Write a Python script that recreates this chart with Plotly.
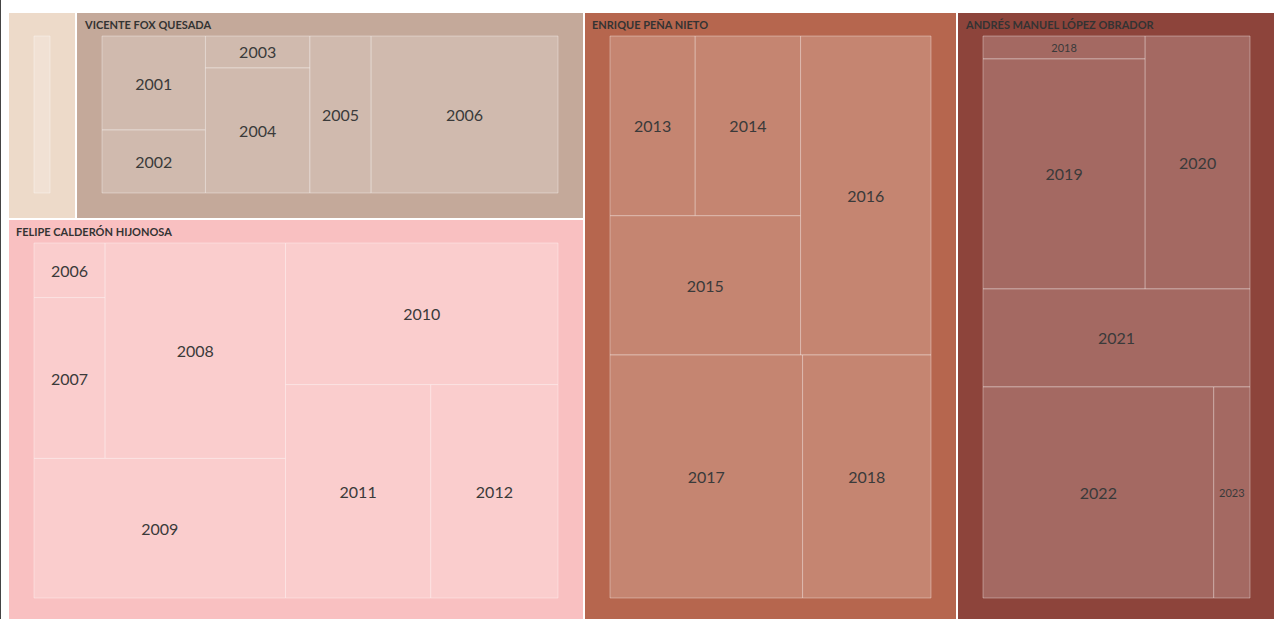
import plotly.graph_objects as go

# ---------------- data ----------------
presidents = [
    "ERNESTO ZEDILLO PONCE DE LEÓN",
    "VICENTE FOX QUESADA",
    "FELIPE CALDERÓN HIJONOSA",
    "ENRIQUE PEÑA NIETO",
    "ANDRÉS MANUEL LÓPEZ OBRADOR",
]
show_header = [False, True, True, True, True]
parent_colors = ["#EDDAC9", "#C4A99A", "#F9C0C1", "#B6664E", "#8D443B"]

zedillo_years = ["2000"]
zedillo_values = [1408]

fox_years = ["2001", "2002", "2003", "2004", "2005", "2006"]
fox_values = [1428, 957, 491, 1918, 1413, 4308]

calderon_years = ["2006", "2007", "2008", "2009", "2010", "2011", "2012"]
calderon_values = [487, 1435, 4872, 4402, 4839, 3888, 3405]

pena_years = ["2013", "2014", "2015", "2016", "2017", "2018"]
pena_values = [1939, 2396, 3359, 5264, 5922, 3948]

amlo_years = ["2018", "2019", "2020", "2021", "2022", "2023"]
amlo_values = [485, 4854, 3449, 3404, 6335, 996]

years_by_president = [zedillo_years, fox_years, calderon_years, pena_years, amlo_years]
values_by_president = [zedillo_values, fox_values, calderon_values, pena_values, amlo_values]

# labels drawn with a smaller font (partial years in narrow boxes)
small_labels = {("ANDRÉS MANUEL LÓPEZ OBRADOR", "2018"), ("ANDRÉS MANUEL LÓPEZ OBRADOR", "2023")}
hidden_labels = {("ERNESTO ZEDILLO PONCE DE LEÓN", "2000")}


def lighten(hex_color, amount=0.2):
    h = hex_color.lstrip("#")
    r, g, b = (int(h[i:i + 2], 16) for i in (0, 2, 4))
    r = round(r + (255 - r) * amount)
    g = round(g + (255 - g) * amount)
    b = round(b + (255 - b) * amount)
    return f"rgb({r},{g},{b})"


CLEAR = "rgba(0,0,0,0)"
ids, labels, parents, values = [], [], [], []
fills, line_colors, line_widths = [], [], []
child_colors, header_colors = [], []
child_sizes, header_sizes = [], []
child_tpl, header_tpl = [], []

for p, pname in enumerate(presidents):
    ids.append(pname)
    labels.append(pname)
    parents.append("")
    values.append(0)
    fills.append(parent_colors[p])
    line_colors.append("#ffffff")
    line_widths.append(2)
    child_colors.append(CLEAR)
    child_sizes.append(1)
    child_tpl.append("")
    header_colors.append("#333333" if show_header[p] else CLEAR)
    header_sizes.append(11 if show_header[p] else 1)
    header_tpl.append("%{label}" if show_header[p] else "")
    for y, v in zip(years_by_president[p], values_by_president[p]):
        ids.append(f"{pname}|{y}")
        labels.append(y)
        parents.append(pname)
        values.append(v)
        fills.append(lighten(parent_colors[p], 0.2))
        line_colors.append("rgba(255,255,255,0.35)")
        line_widths.append(1)
        hidden = (pname, y) in hidden_labels
        child_colors.append(CLEAR if hidden else "#3a3a3a")
        child_tpl.append("" if hidden else "%{label}")
        child_sizes.append(11 if (pname, y) in small_labels else 16)
        header_colors.append(CLEAR)
        header_sizes.append(1)
        header_tpl.append("")

W, H = 1320, 662
PAD = dict(t=24, l=26, r=26, b=26)

common = dict(
    ids=ids, labels=labels, parents=parents, values=values,
    branchvalues="remainder", sort=False,
    tiling=dict(packing="binary", pad=0),
    pathbar=dict(visible=False),
)

fig = go.Figure()
# boxes + year labels
fig.add_trace(go.Treemap(
    **common,
    texttemplate=child_tpl,
    textposition="middle center",
    marker=dict(colors=fills, line=dict(color=line_colors, width=line_widths), pad=PAD),
    textfont=dict(family="Lato", size=child_sizes, color=child_colors),
    hoverinfo="label+value",
))
# president headers (same top-level geometry, header text inset 8px, 3px lower)
HL = 8
hx = PAD["l"] - HL
dy = 3
fig.add_trace(go.Treemap(
    **common,
    texttemplate=header_tpl,
    textposition="top left",
    domain=dict(x=[hx / W, 1 - hx / W], y=[0, 1 - dy / H]),
    marker=dict(colors=[CLEAR] * len(ids), line=dict(color=CLEAR, width=0),
                pad=dict(t=PAD["t"], l=HL, r=HL, b=PAD["b"] - dy)),
    textfont=dict(family="Lato", size=header_sizes, color=header_colors, weight=700),
    hoverinfo="skip",
))

fig.update_layout(
    width=W, height=H,
    margin=dict(l=0, r=0, t=0, b=0),
    paper_bgcolor="white",
    showlegend=False,
)

post = (
    "var gd=document.getElementById('{plot_id}');"
    "gd.style.position='absolute';gd.style.left='-18px';gd.style.top='-12px';"
    "document.body.style.overflow='hidden';"
)
fig.write_html("out.html", post_script=post, config={"displayModeBar": False})
